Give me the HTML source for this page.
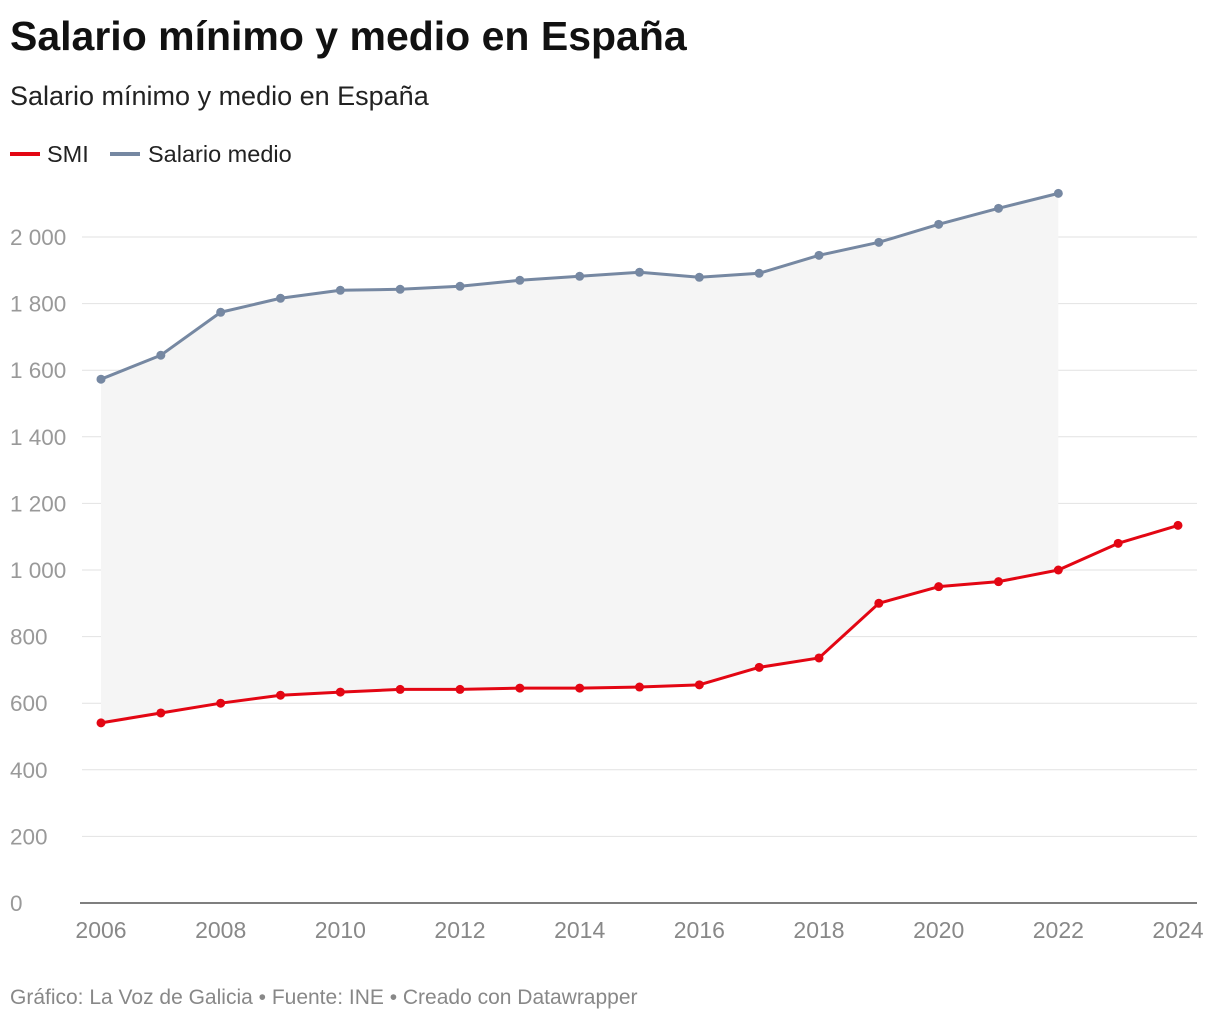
<!DOCTYPE html>
<html><head><meta charset="utf-8">
<style>
body{margin:0;background:#fff;font-family:"Liberation Sans",sans-serif;}
svg text{font-family:"Liberation Sans",sans-serif;}
</style></head>
<body>
<svg id="chart" width="1220" height="1020">
<text x="10" y="50" font-size="41" font-weight="bold" fill="#111">Salario mínimo y medio en España</text>
<text x="10" y="105" font-size="27" fill="#222">Salario mínimo y medio en España</text>
<g>
<line x1="10" y1="154" x2="40" y2="154" stroke="#e30613" stroke-width="4"/>
<text x="47" y="162" font-size="23.5" fill="#222">SMI</text>
<line x1="110" y1="154" x2="140" y2="154" stroke="#7688a2" stroke-width="4"/>
<text x="148" y="162" font-size="23.5" fill="#222">Salario medio</text>
</g>
<g id="grid"></g><g id="area"></g><g id="lines"></g>
<text x="10" y="1004" font-size="21" fill="#888">Gráfico: La Voz de Galicia • Fuente: INE • Creado con Datawrapper</text>
</svg>
<script>
const years=[2006,2007,2008,2009,2010,2011,2012,2013,2014,2015,2016,2017,2018,2019,2020,2021,2022,2023,2024];
const smi=[540.9,570.6,600,624,633.3,641.4,641.4,645.3,645.3,648.6,655.2,707.6,735.9,900,950,965,1000,1080,1134];
const medio=[1573,1645,1774,1816,1840,1843,1852,1870,1882,1894,1879,1891,1945,1984,2038,2086,2131];
const yTicks=[0,200,400,600,800,1000,1200,1400,1600,1800,2000];
const xTicks=[2006,2008,2010,2012,2014,2016,2018,2020,2022,2024];
const NS="http://www.w3.org/2000/svg";
const x=v=>101+(v-2006)*(1178-101)/18;
const y=v=>903-v*666/2000;
function mk(t,a,p){const e=document.createElementNS(NS,t);for(const k in a)e.setAttribute(k,a[k]);p.appendChild(e);return e;}
const grid=document.getElementById('grid');
yTicks.forEach(t=>{
 const l=mk('line',{x1:t===0?80:82,x2:1197,y1:y(t),y2:y(t),stroke:t===0?'#333':'#e2e2e2','stroke-width':t===0?1.3:1},grid);
 
 
 const lab=t===0?'0':(t>=1000?Math.floor(t/1000)+' '+String(t%1000).padStart(3,'0'):String(t));
 const tx=mk('text',{x:10,y:y(t)+8,'font-size':22.5,fill:'#999'},grid);tx.textContent=lab;
 
 
});
xTicks.forEach(t=>{
 const tx=mk('text',{x:x(t),y:938,'font-size':23,fill:'#888','text-anchor':'middle'},grid);tx.textContent=t;
 
 
});
let d='';
medio.forEach((v,i)=>d+=(i?'L':'M')+x(years[i])+','+y(v));
for(let i=medio.length-1;i>=0;i--)d+='L'+x(years[i])+','+y(smi[i]);
const ar=mk('path',{d:d+'Z',fill:'#f5f5f5'},document.getElementById('area'));


const lines=document.getElementById('lines');
function series(vals,col,name){
 const pts=vals.map((v,i)=>x(years[i])+','+y(v)).join(' ');
 const pl=mk('polyline',{points:pts,fill:'none',stroke:col,'stroke-width':3,'stroke-linejoin':'round'},lines);
 
 
 vals.forEach((v,i)=>{
  const c=mk('circle',{cx:x(years[i]),cy:y(v),r:4.5,fill:col},lines);
  
  
 });
}
series(medio,'#7688a2','salario-medio');
series(smi,'#e30613','smi');
</script>
</body></html>
